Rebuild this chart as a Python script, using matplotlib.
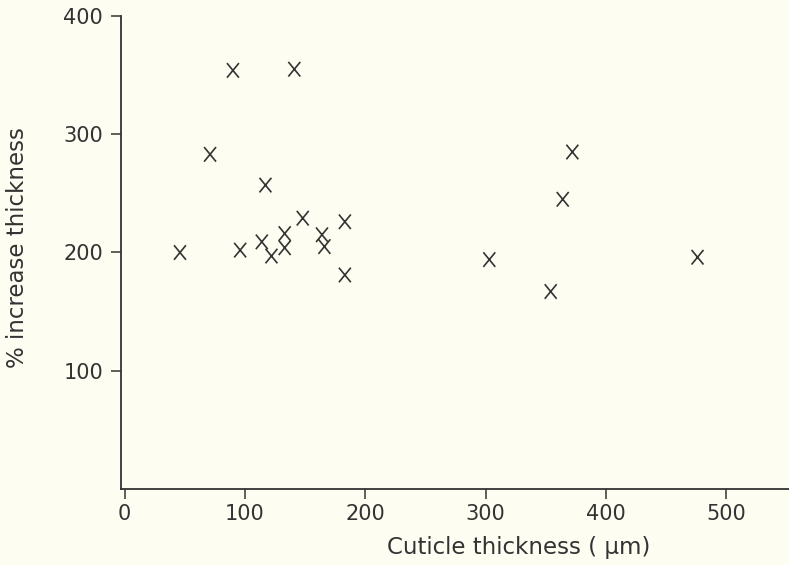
import matplotlib
matplotlib.use("Agg")
import matplotlib.pyplot as plt
from matplotlib.path import Path

# Data
cuticle_um = [46, 71, 90, 141, 117, 96, 114, 122, 133, 133, 148, 164, 166, 183, 183,
              303, 372, 364, 354, 476]
pct_increase = [200, 283, 354, 355, 257, 202, 209, 197, 216, 204, 229, 215, 205, 226, 181,
                194, 285, 245, 167, 196]
x_ticks = [0, 100, 200, 300, 400, 500]
y_ticks = [100, 200, 300, 400]

bg = "#fefdf1"
ink = "#333333"

x_marker = Path([(-0.82, -1), (0.82, 1), (-0.82, 1), (0.82, -1)],
                [Path.MOVETO, Path.LINETO, Path.MOVETO, Path.LINETO])

plt.rcParams['font.family'] = ['DejaVu Sans']
fig = plt.figure(figsize=(7.89, 5.65), dpi=100, facecolor=bg)
ax = fig.add_axes([121/789, 76/565, 1 - 121/789, (489-16)/565])
ax.set_facecolor(bg)

ax.scatter(cuticle_um, pct_increase, marker=x_marker, s=110, linewidths=1.2,
           facecolors='none', edgecolors=ink, zorder=3)

ax.set_xlim(-3, 552)
ax.set_ylim(0, 400)
ax.set_xticks(x_ticks)
ax.set_yticks(y_ticks)
ax.tick_params(axis='both', direction='out', length=7, width=1.1, color=ink,
               labelcolor=ink, labelsize=15)
ax.tick_params(axis='x', pad=4)
ax.tick_params(axis='y', pad=6)
for s in ['top', 'right']:
    ax.spines[s].set_visible(False)
for s in ['left', 'bottom']:
    ax.spines[s].set_color(ink)
    ax.spines[s].set_linewidth(1.3)

ax.set_xlabel("Cuticle thickness ( μm)", fontsize=16.5, color=ink)
ax.set_ylabel("% increase thickness", fontsize=16.5, color=ink)
ax.xaxis.set_label_coords(0.596, -0.100)
ax.yaxis.set_label_coords(-0.137, 0.51)

fig.savefig("out.png", dpi=100, facecolor=bg)
